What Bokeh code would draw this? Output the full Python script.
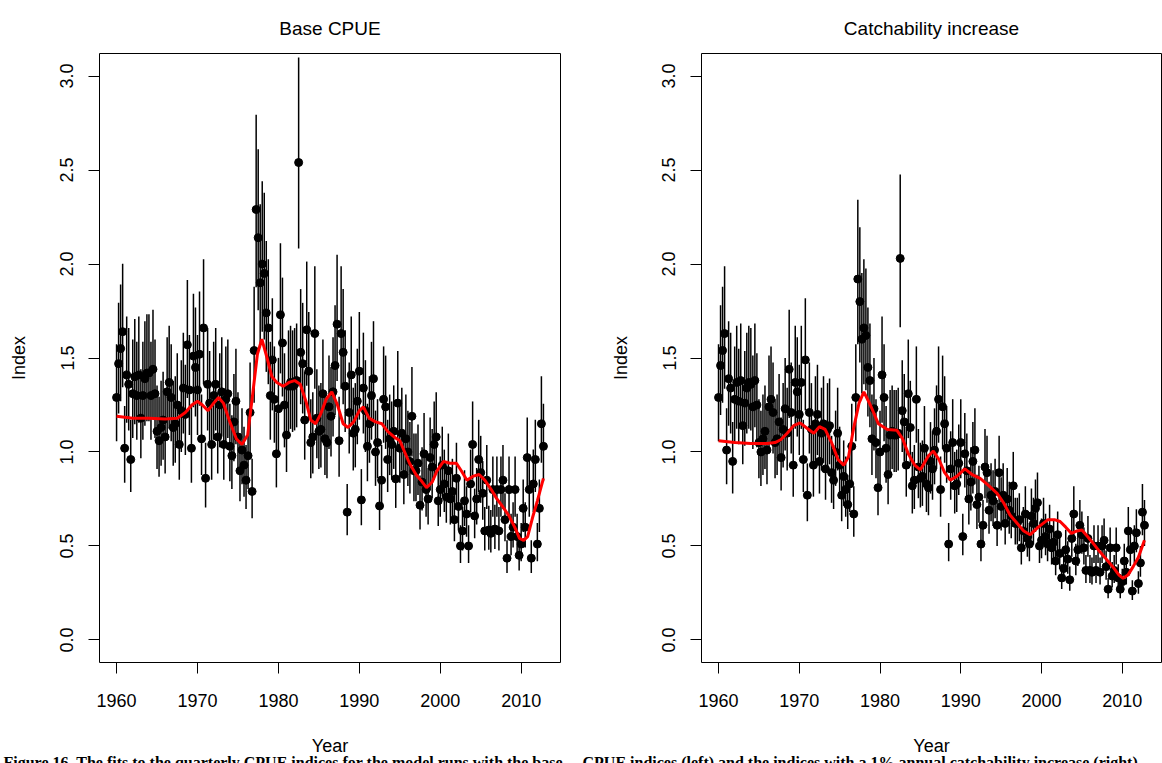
import numpy as np
from bokeh.plotting import figure
from bokeh.models import Range1d, FixedTicker, PrintfTickFormatter, Title
from bokeh.layouts import row
from bokeh.embed import file_html
from bokeh.resources import INLINE

# ---------------- data ----------------
# quarterly time steps 1960.00 ... 2012.75
quarters = [1960 + 0.25 * i for i in range(212)]

# Left panel: "Base CPUE" index, 4 quarters per line
base_cpue = [
    1.29, 1.47, 1.55, 1.64,   # 1960
    1.02, 1.41, 1.36, 0.96,   # 1961
    1.31, 1.40, 1.30, 1.41,   # 1962
    1.18, 1.30, 1.39, 1.42,   # 1963
    1.42, 1.30, 1.44, 1.31,   # 1964
    1.11, 1.06, 1.13, 1.17,   # 1965
    1.08, 1.32, 1.37, 1.29,   # 1966
    1.13, 1.15, 1.25, 1.04,   # 1967
    1.22, 1.34, 1.20, 1.57,   # 1968
    1.33, 1.02, 1.51, 1.45,   # 1969
    1.33, 1.52, 1.07, 1.66,   # 1970
    0.86, 1.36, 1.26, 1.04,   # 1971
    1.30, 1.36, 1.08, 1.25,   # 1972
    1.32, 1.04, 1.28, 1.31,   # 1973
    1.03, 0.98, 1.16, 1.27,   # 1974
    1.08, 0.90, 1.01, 0.93,   # 1975
    0.85, 0.98, 1.21, 0.79,   # 1976
    1.54, 2.29, 2.14, 1.90,   # 1977
    2.00, 1.95, 1.74, 1.66,   # 1978
    1.30, 1.49, 1.28, 0.99,   # 1979
    1.23, 1.73, 1.58, 1.25,   # 1980
    1.09, 1.35, 1.37, 1.35,   # 1981
    1.36, 1.38, 2.54, 1.53,   # 1982
    1.47, 1.17, 1.65, 1.43,   # 1983
    1.05, 1.08, 1.63, 1.18,   # 1984
    1.11, 1.12, 1.31, 1.07,   # 1985
    1.05, 1.24, 1.19, 1.32,   # 1986
    1.46, 1.68, 1.06, 1.63,   # 1987
    1.53, 1.35, 0.68, 1.21,   # 1988
    1.41, 1.10, 1.12, 1.27,   # 1989
    1.43, 0.745, 1.34, 1.22,  # 1990
    1.03, 1.15, 1.30, 1.39,   # 1991
    1.00, 1.05, 0.713, 0.85,  # 1992
    1.28, 1.24, 0.96, 1.07,   # 1993
    1.04, 1.11, 0.857, 1.26,  # 1994
    1.02, 1.10, 0.88, 1.07,   # 1995
    1.00, 0.95, 1.19, 0.90,   # 1996
    0.90, 0.94, 0.717, 0.84,  # 1997
    0.99, 0.80, 0.75, 0.97,   # 1998
    0.92, 1.04, 1.08, 0.74,   # 1999
    0.80, 0.93, 0.83, 0.76,   # 2000
    0.90, 0.75, 0.79, 0.64,   # 2001
    0.86, 0.71, 0.50, 0.58,   # 2002
    0.74, 0.67, 0.50, 0.83,   # 2003
    1.04, 0.66, 0.75, 0.96,   # 2004
    0.89, 0.78, 0.58, 0.85,   # 2005
    0.585, 0.567, 0.80, 0.59, # 2006
    0.80, 0.58, 0.80, 0.85,   # 2007
    0.64, 0.435, 0.80, 0.55,  # 2008
    0.60, 0.80, 0.55, 0.45,   # 2009
    0.51, 0.70, 0.60, 0.97,   # 2010
    0.80, 0.435, 0.83, 0.96,  # 2011
    0.51, 0.70, 1.15, 1.03,   # 2012
]

# Right panel: "Catchability increase" index
catch_cpue = [
    1.29, 1.46, 1.54, 1.63,   # 1960
    1.01, 1.39, 1.34, 0.95,   # 1961
    1.28, 1.37, 1.27, 1.38,   # 1962
    1.14, 1.26, 1.34, 1.37,   # 1963
    1.36, 1.24, 1.38, 1.25,   # 1964
    1.05, 1.00, 1.07, 1.11,   # 1965
    1.01, 1.24, 1.28, 1.21,   # 1966
    1.05, 1.07, 1.16, 0.97,   # 1967
    1.12, 1.23, 1.10, 1.44,   # 1968
    1.21, 0.93, 1.37, 1.32,   # 1969
    1.20, 1.37, 0.96, 1.49,   # 1970
    0.77, 1.21, 1.12, 0.93,   # 1971
    1.15, 1.20, 0.95, 1.10,   # 1972
    1.15, 0.91, 1.12, 1.14,   # 1973
    0.89, 0.85, 1.00, 1.10,   # 1974
    0.93, 0.77, 0.87, 0.80,   # 1975
    0.72, 0.83, 1.03, 0.67,   # 1976
    1.29, 1.92, 1.80, 1.60,   # 1977
    1.66, 1.62, 1.45, 1.38,   # 1978
    1.07, 1.23, 1.05, 0.81,   # 1979
    1.00, 1.41, 1.29, 1.02,   # 1980
    0.88, 1.09, 1.11, 1.09,   # 1981
    1.09, 1.10, 2.03, 1.22,   # 1982
    1.16, 0.93, 1.31, 1.13,   # 1983
    0.82, 0.85, 1.28, 0.92,   # 1984
    0.86, 0.87, 1.02, 0.83,   # 1985
    0.81, 0.95, 0.91, 1.01,   # 1986
    1.11, 1.28, 0.80, 1.24,   # 1987
    1.15, 1.02, 0.51, 0.91,   # 1988
    1.05, 0.82, 0.83, 0.94,   # 1989
    1.05, 0.55, 0.99, 0.90,   # 1990
    0.75, 0.84, 0.95, 1.01,   # 1991
    0.72, 0.76, 0.51, 0.61,   # 1992
    0.92, 0.89, 0.69, 0.77,   # 1993
    0.74, 0.79, 0.61, 0.89,   # 1994
    0.71, 0.77, 0.62, 0.75,   # 1995
    0.69, 0.66, 0.82, 0.62,   # 1996
    0.62, 0.64, 0.49, 0.58,   # 1997
    0.67, 0.54, 0.51, 0.66,   # 1998
    0.62, 0.70, 0.73, 0.50,   # 1999
    0.53, 0.62, 0.55, 0.51,   # 2000
    0.59, 0.49, 0.52, 0.42,   # 2001
    0.56, 0.46, 0.33, 0.38,   # 2002
    0.48, 0.43, 0.32, 0.54,   # 2003
    0.67, 0.42, 0.48, 0.61,   # 2004
    0.56, 0.49, 0.37, 0.54,   # 2005
    0.37, 0.36, 0.50, 0.37,   # 2006
    0.50, 0.36, 0.50, 0.53,   # 2007
    0.39, 0.27, 0.49, 0.34,   # 2008
    0.37, 0.49, 0.33, 0.27,   # 2009
    0.31, 0.42, 0.36, 0.58,   # 2010
    0.48, 0.26, 0.50, 0.57,   # 2011
    0.30, 0.41, 0.68, 0.61,   # 2012
]

# half-length of the vertical interval bars (multiplicative)
ci_ratio = 1.22

# red fitted lines
base_fit_years = [1960, 1962, 1964, 1966, 1967.5, 1968.5, 1969.3, 1970.0, 1970.6, 1971.3,
                  1972.0, 1972.6, 1973.2, 1974.0, 1974.8, 1975.5, 1976.2, 1976.8, 1977.4, 1977.95,
                  1978.6, 1979.2, 1979.8, 1980.6, 1981.3, 1982.0, 1982.7, 1983.4, 1984.0, 1984.6,
                  1985.2, 1985.9, 1986.6, 1987.3, 1988.0, 1988.6, 1989.3, 1990.0, 1990.5, 1991.2,
                  1992.0, 1992.8, 1993.5, 1994.3, 1995.0, 1995.6, 1996.2, 1997.0, 1997.6, 1998.3,
                  1999.0, 1999.6, 2000.4, 2001.2, 2002.0, 2002.6, 2003.3, 2004.0, 2004.8, 2005.5,
                  2006.3, 2007.0, 2007.7, 2008.5, 2009.2, 2009.8, 2010.3, 2010.8, 2011.4, 2012.0,
                  2012.75]
base_fit = [1.19, 1.18, 1.18, 1.175, 1.18, 1.21, 1.25, 1.27, 1.25, 1.22,
            1.26, 1.29, 1.26, 1.16, 1.07, 1.04, 1.09, 1.30, 1.52, 1.60,
            1.50, 1.40, 1.37, 1.35, 1.37, 1.38, 1.36, 1.27, 1.17, 1.15,
            1.20, 1.28, 1.32, 1.25, 1.15, 1.13, 1.16, 1.22, 1.24, 1.18,
            1.16, 1.15, 1.11, 1.08, 1.06, 1.00, 0.94, 0.88, 0.85, 0.81,
            0.84, 0.90, 0.95, 0.94, 0.94, 0.90, 0.85, 0.87, 0.88, 0.85,
            0.80, 0.75, 0.71, 0.66, 0.60, 0.54, 0.53, 0.55, 0.65, 0.74,
            0.86]

catch_fit_years = [1960, 1962, 1964, 1966, 1967.0, 1967.7, 1968.5, 1969.3, 1970.1, 1971.0,
                   1971.8, 1972.5, 1973.2, 1974.0, 1974.8, 1975.5, 1976.1, 1976.7, 1977.4, 1978.0,
                   1978.8, 1979.8, 1980.9, 1982.1, 1982.8, 1983.5, 1984.3, 1985.0, 1986.0, 1986.6,
                   1987.3, 1988.0, 1988.7, 1989.5, 1990.5, 1991.4, 1992.4, 1993.5, 1994.5, 1995.3,
                   1996.1, 1997.0, 1997.8, 1998.6, 1999.6, 2000.8, 2001.6, 2002.3, 2003.0, 2003.7,
                   2004.4, 2005.0, 2005.7, 2006.4, 2007.2, 2008.1, 2009.0, 2009.6, 2010.1, 2010.7,
                   2011.35, 2012.0, 2012.75]
catch_fit = [1.06, 1.05, 1.045, 1.045, 1.05, 1.065, 1.10, 1.14, 1.155, 1.125,
             1.10, 1.135, 1.12, 1.05, 0.96, 0.93, 0.975, 1.12, 1.26, 1.32,
             1.25, 1.15, 1.12, 1.115, 1.07, 0.99, 0.93, 0.905, 0.98, 1.005,
             0.96, 0.89, 0.85, 0.87, 0.91, 0.88, 0.86, 0.82, 0.78, 0.73,
             0.665, 0.62, 0.58, 0.56, 0.60, 0.64, 0.64, 0.63, 0.60, 0.567,
             0.58, 0.585, 0.55, 0.514, 0.47, 0.426, 0.38, 0.345, 0.328, 0.345,
             0.39, 0.44, 0.53]

x_ticks = [1960, 1970, 1980, 1990, 2000, 2010]
y_ticks = [0.0, 0.5, 1.0, 1.5, 2.0, 2.5, 3.0]

titles = ["Base CPUE", "Catchability increase"]
x_label = "Year"
y_label = "Index"
caption_left = "Figure 16. The fits to the quarterly CPUE indices for the model runs with the base"
caption_right = "CPUE indices (left) and the indices with a 1% annual catchability increase (right)."

# ---------------- drawing ----------------
FONT = "Liberation Sans"
H = 763
TOP = 53
BOTTOM = 100


def make_panel(title, values, fit_x, fit_y, width, b_left, b_right, caption, cap_offset):
    p = figure(width=width, height=H, title_location=None,
               x_range=Range1d(1957.89, 2014.86), y_range=Range1d(-0.12, 3.12),
               output_backend="svg", toolbar_location=None,
               min_border_left=b_left, min_border_right=b_right,
               min_border_top=TOP, min_border_bottom=BOTTOM)
    p.xgrid.visible = False
    p.ygrid.visible = False
    p.background_fill_color = "white"
    p.border_fill_color = "white"
    p.outline_line_color = "black"
    p.outline_line_width = 1

    # panel title, lifted away from the frame by its standoff
    p.add_layout(Title(text=title, align="center", vertical_align="bottom", standoff=29,
                       text_font=FONT, text_font_size="19px", text_font_style="normal",
                       text_color="black"), "above")

    v = np.array(values)
    p.segment(x0=quarters, y0=v / ci_ratio, x1=quarters, y1=v * ci_ratio,
              line_color="black", line_width=1.5)
    p.scatter(quarters, values, size=8, marker="circle",
              fill_color="black", line_color="black")
    p.line(fit_x, fit_y, line_color="#ff0000", line_width=3)

    for ax in (p.xaxis[0], p.yaxis[0]):
        ax.axis_line_color = None
        ax.major_tick_out = 11
        ax.major_tick_in = 0
        ax.minor_tick_line_color = None
        ax.major_tick_line_color = "black"
        ax.major_label_text_font = FONT
        ax.major_label_text_font_size = "18px"
        ax.major_label_text_color = "black"
        ax.axis_label_text_font = FONT
        ax.axis_label_text_font_size = "18px"
        ax.axis_label_text_font_style = "normal"
        ax.axis_label_text_color = "black"

    p.xaxis.ticker = FixedTicker(ticks=x_ticks)
    p.yaxis.ticker = FixedTicker(ticks=y_ticks)
    p.yaxis.formatter = PrintfTickFormatter(format="%.1f")
    p.yaxis.major_label_orientation = "vertical"
    p.xaxis.axis_label = x_label
    p.yaxis.axis_label = y_label
    p.xaxis.major_label_standoff = 20
    p.yaxis.major_label_standoff = 15
    p.xaxis.axis_label_standoff = 26
    p.yaxis.axis_label_standoff = 29

    # document caption below the axis, cut by the bottom edge as in the reference
    p.add_layout(Title(text=caption, align="left", vertical_align="bottom",
                       offset=cap_offset, standoff=-14,
                       text_font="Liberation Serif", text_font_size="16px",
                       text_font_style="bold", text_color="black"), "below")
    return p


left = make_panel(titles[0], base_cpue, base_fit_years, base_fit, 580, 99, 20,
                  caption_left, -96)
right = make_panel(titles[1], catch_cpue, catch_fit_years, catch_fit, 582, 121, 1,
                   caption_right, -119)

layout = row(left, right, spacing=0)
open("out.html", "w").write(file_html(layout, INLINE))
